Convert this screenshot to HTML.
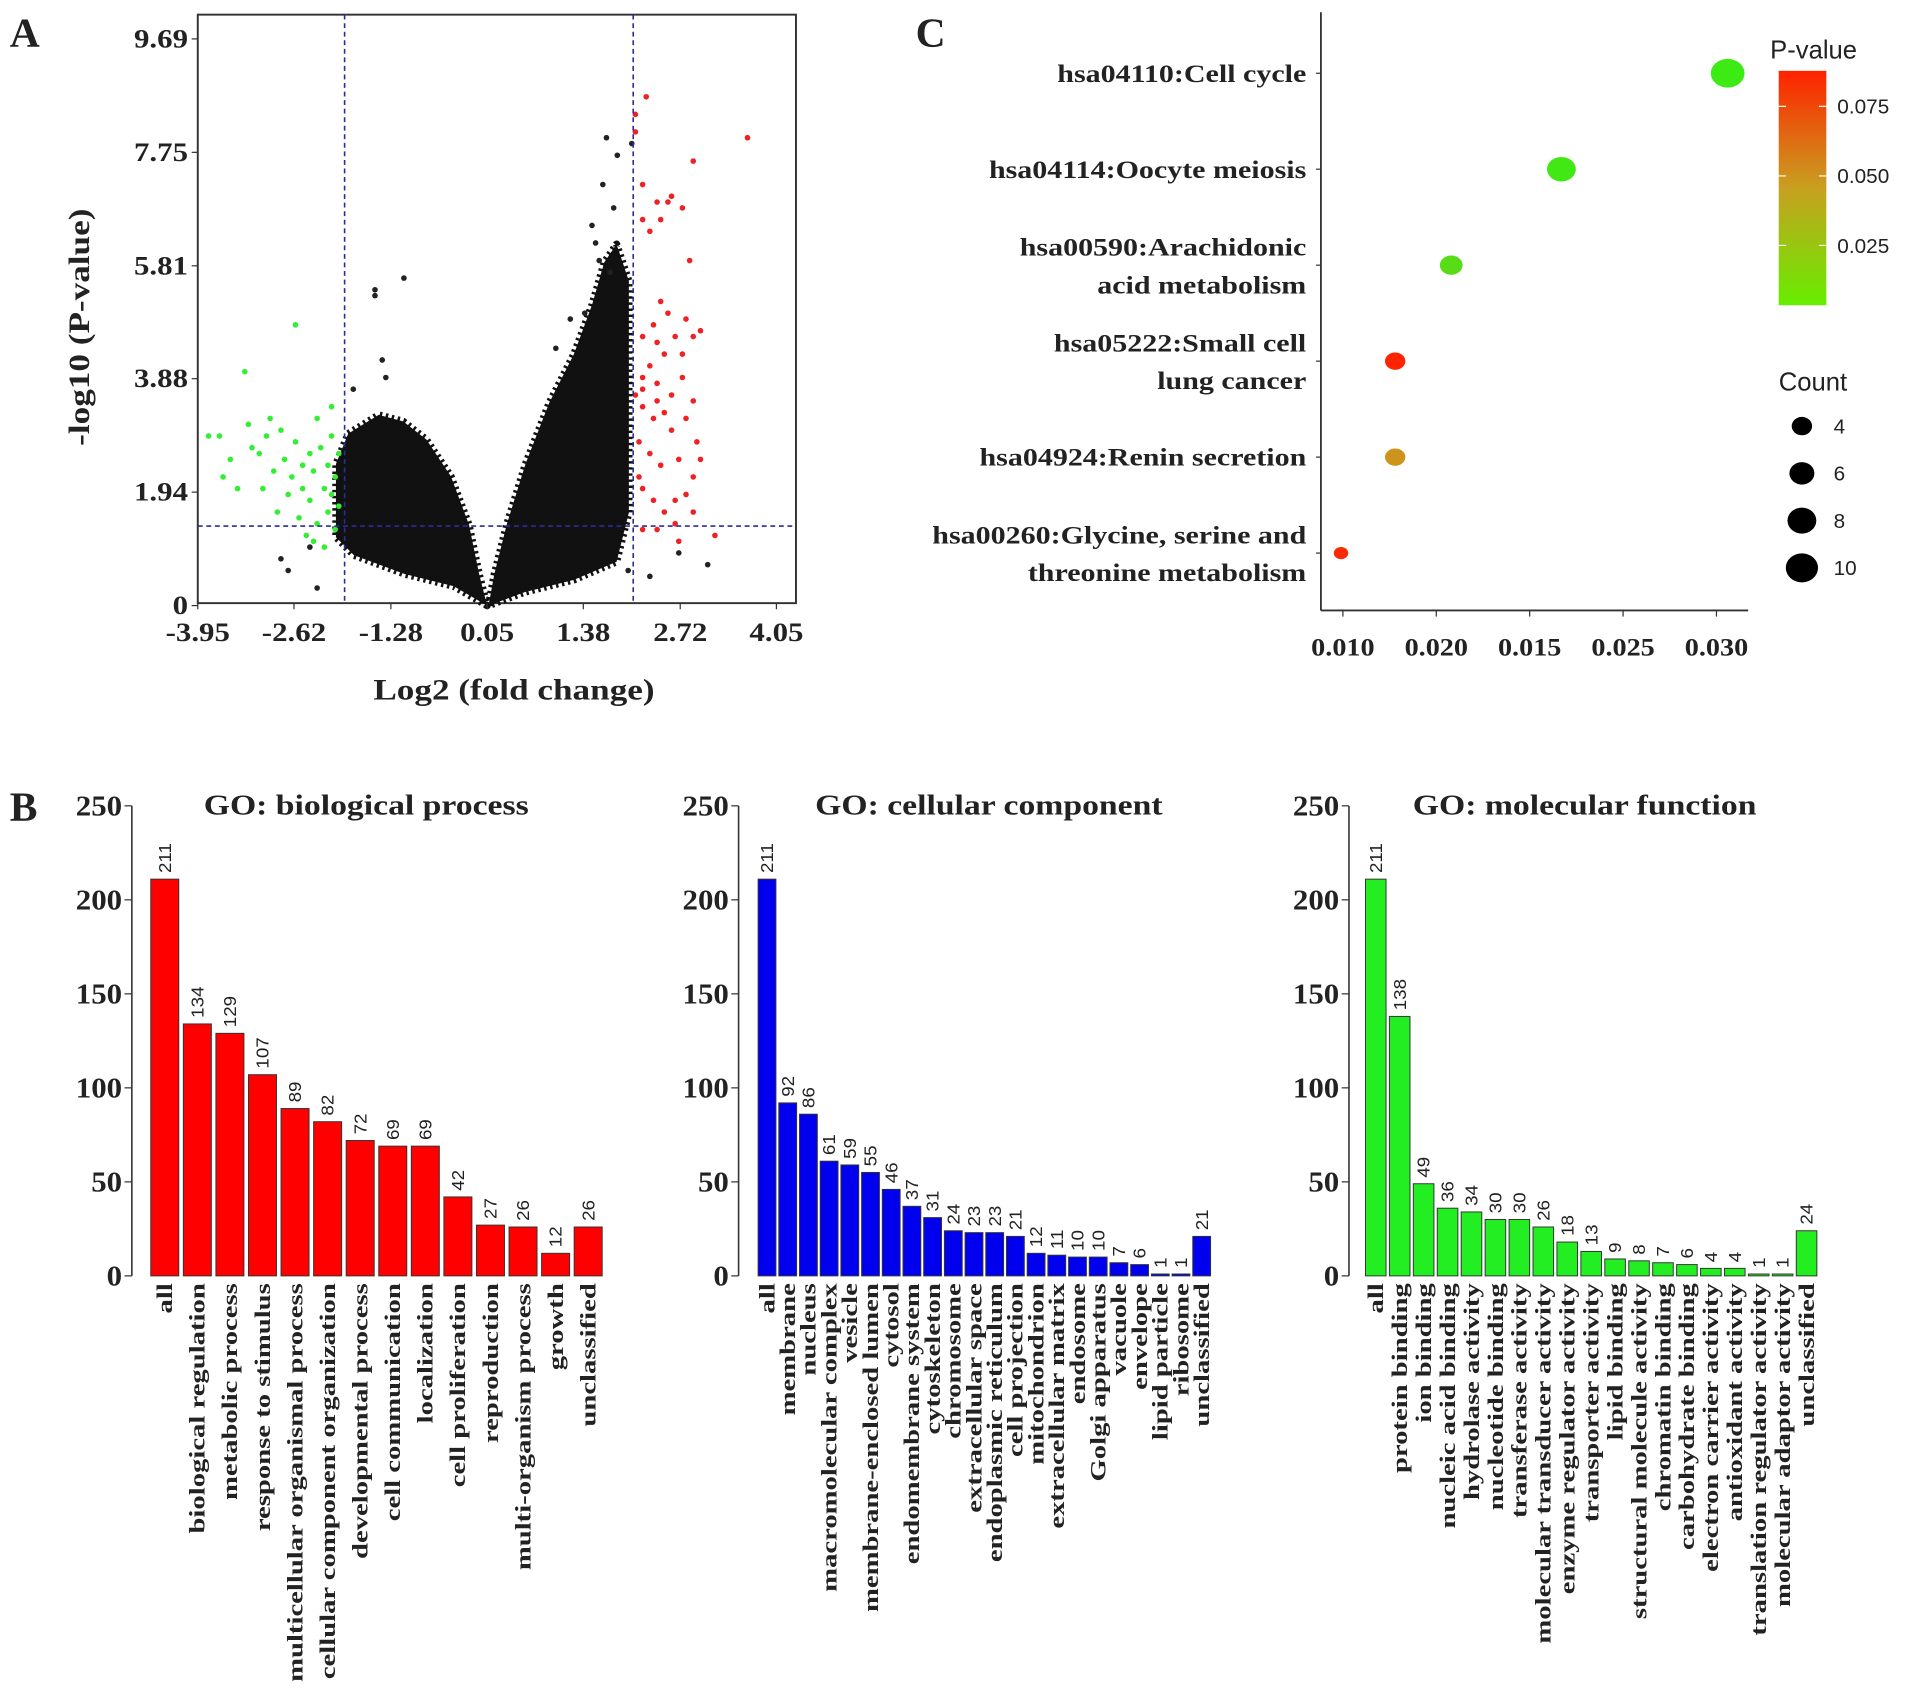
<!DOCTYPE html>
<html><head><meta charset="utf-8">
<style>
html,body{margin:0;padding:0;background:#fff;}
svg{display:block;}
.ser{font-family:"Liberation Serif",serif;font-weight:bold;fill:#222;}
.sans{font-family:"Liberation Sans",sans-serif;fill:#222;}
</style></head>
<body>
<svg id="fig" width="1913" height="1691" viewBox="0 0 1567 1385" preserveAspectRatio="none" xmlns="http://www.w3.org/2000/svg">
<rect width="1567" height="1385" fill="#fff"/>
<text class="ser" x="8" y="38" font-size="34">A</text>
<text class="ser" x="8" y="672" font-size="34">B</text>
<text class="ser" x="750" y="38" font-size="34">C</text>
<g id="volcano"></g>
<g id="bubble"></g>
<g id="bars"></g>
</svg>
<script>
// ---------- Volcano data ----------
const volXTicks = [-3.95,-2.62,-1.28,0.05,1.38,2.72,4.05];
const volYTicks = [0,1.94,3.88,5.81,7.75,9.69];
const volFcCut = [-1.92,2.07];
const volPCut = 1.36;
const volDenseLeft = [[0.05,0],[-0.41,0.33],[-1.09,0.54],[-1.79,0.86],[-2.04,1.17],[-2.04,2.42],[-1.87,2.94],[-1.45,3.26],[-1.11,3.15],[-0.79,2.84],[-0.45,2.21],[-0.20,1.38],[-0.06,0.54]];
const volDenseRight = [[0.07,0],[0.15,0.54],[0.32,1.38],[0.58,2.42],[0.91,3.47],[1.25,4.30],[1.50,5.14],[1.67,5.87],[1.84,6.18],[2.01,5.55],[2.01,4.09],[2.01,1.59],[1.84,0.75],[1.25,0.44],[0.57,0.23]];
const volGreen = [[-3.8,2.9],[-3.65,2.9],[-3.5,2.5],[-3.3,4.0],[-3.25,3.1],[-3.1,2.6],[-3.05,2.0],[-3.0,2.9],[-2.95,3.2],[-2.9,2.3],[-2.85,1.6],[-2.8,3.0],[-2.75,2.5],[-2.7,1.9],[-2.65,2.2],[-2.6,4.8],[-2.6,2.8],[-2.55,1.5],[-2.5,2.4],[-2.5,2.0],[-2.45,1.2],[-2.4,2.6],[-2.4,1.8],[-2.35,2.3],[-2.3,3.2],[-2.3,1.4],[-2.25,2.7],[-2.2,2.0],[-2.2,1.0],[-2.15,2.4],[-2.15,1.6],[-2.1,3.4],[-2.1,2.9],[-2.1,1.9],[-2.05,1.3],[-2.05,2.2],[-2.0,2.6],[-2.0,1.7],[-3.4,2.0],[-3.6,2.2],[-3.2,2.7],[-2.35,1.1]];
const volRed = [[2.1,8.4],[2.1,8.1],[2.25,8.7],[2.2,7.2],[2.3,6.4],[2.4,6.9],[2.45,6.6],[2.2,6.6],[2.6,7.0],[2.55,6.9],[2.75,6.8],[2.9,7.6],[3.65,8.0],[2.85,5.9],[2.45,5.2],[2.55,5.0],[2.2,4.6],[2.35,4.8],[2.5,4.3],[2.65,4.6],[2.8,4.9],[2.9,4.6],[3.0,4.7],[2.3,4.1],[2.2,3.9],[2.4,3.8],[2.6,3.6],[2.75,3.9],[2.9,3.5],[2.2,3.4],[2.35,3.2],[2.5,3.3],[2.6,3.0],[2.8,3.2],[2.95,2.8],[2.15,2.8],[2.3,2.6],[2.45,2.4],[2.7,2.5],[2.9,2.2],[3.0,2.5],[2.2,2.0],[2.35,1.8],[2.5,1.6],[2.65,1.8],[2.8,1.9],[2.9,1.6],[2.2,1.3],[2.4,1.3],[2.65,1.4],[3.2,1.2],[2.1,3.6],[2.2,3.7],[2.4,3.5],[2.15,2.2],[2.7,1.1],[2.4,4.5],[2.75,4.3]];
const volBlack = [[-1.1,5.6],[-1.5,5.4],[-1.5,5.3],[-1.4,4.2],[-1.35,3.9],[-1.8,3.7],[-2.4,1.0],[-2.7,0.6],[-2.3,0.3],[-2.8,0.8],[1.7,8.0],[1.85,7.7],[1.65,7.2],[1.8,6.8],[1.5,6.5],[1.55,6.2],[1.6,5.9],[1.4,5.0],[1.2,4.9],[1.0,4.4],[2.05,7.9],[1.75,5.7],[3.1,0.7],[2.7,0.9],[2.0,0.6],[2.3,0.5]];

// ---------- Bubble data ----------
const keggTerms = [["hsa04110:Cell cycle"],["hsa04114:Oocyte meiosis"],["hsa00590:Arachidonic","acid metabolism"],["hsa05222:Small cell","lung cancer"],["hsa04924:Renin secretion"],["hsa00260:Glycine, serine and","threonine metabolism"]];
const keggRatio = [0.0306,0.0217,0.0158,0.0128,0.0128,0.0099];
const keggCount = [11,8,5,4,4,2];
const keggP = [0.0035,0.005,0.012,0.087,0.05,0.085];
const keggXTickVals = [0.010,0.015,0.020,0.025,0.030];
const keggXTickLabels = ["0.010","0.020","0.015","0.025","0.030"];
const pLegendTicks = [0.025,0.050,0.075];
const countLegend = [4,6,8,10];

// ---------- GO data ----------
const bpCats = ["all","biological regulation","metabolic process","response to stimulus","multicellular organismal process","cellular component organization","developmental process","cell communication","localization","cell proliferation","reproduction","multi-organism process","growth","unclassified"];
const bpVals = [211,134,129,107,89,82,72,69,69,42,27,26,12,26];
const ccCats = ["all","membrane","nucleus","macromolecular complex","vesicle","membrane-enclosed lumen","cytosol","endomembrane system","cytoskeleton","chromosome","extracellular space","endoplasmic reticulum","cell projection","mitochondrion","extracellular matrix","endosome","Golgi apparatus","vacuole","envelope","lipid particle","ribosome","unclassified"];
const ccVals = [211,92,86,61,59,55,46,37,31,24,23,23,21,12,11,10,10,7,6,1,1,21];
const mfCats = ["all","protein binding","ion binding","nucleic acid binding","hydrolase activity","nucleotide binding","transferase activity","molecular transducer activity","enzyme regulator activity","transporter activity","lipid binding","structural molecule activity","chromatin binding","carbohydrate binding","electron carrier activity","antioxidant activity","translation regulator activity","molecular adaptor activity","unclassified"];
const mfVals = [211,138,49,36,34,30,30,26,18,13,9,8,7,6,4,4,1,1,24];
const goYTicks = [0,50,100,150,200,250];

const NS="http://www.w3.org/2000/svg";
function mk(parent,tag,attrs,text){const e=document.createElementNS(NS,tag);for(const k in attrs)e.setAttribute(k,attrs[k]);if(text!==undefined)e.textContent=text;parent.appendChild(e);return e;}
// stretched text: rot in degrees, sx horizontal stretch along text direction
function txt(parent,cls,x,y,size,anchor,str,rot,sx){
 return mk(parent,'text',{class:cls,x:0,y:0,'font-size':size,'text-anchor':anchor,transform:'translate('+x+','+y+') rotate('+(rot||0)+') scale('+(sx||1)+',1)'},str);}

// ===== Volcano =====
(function(){
const g=document.getElementById('volcano');
const X0=162,X1=652,Y0=12,Y1=494;
const vx=v=>162+(v+3.95)*59.25;
const vy=v=>496-v*47.9;
const box=mk(g,'rect',{x:X0,y:Y0,width:X1-X0,height:Y1-Y0,fill:'none',stroke:'#333','stroke-width':1.6});


[volDenseLeft,volDenseRight].forEach((poly,i)=>{
 const p=mk(g,'polygon',{points:poly.map(d=>vx(d[0])+','+vy(d[1])).join(' '),fill:'#111',stroke:'#111','stroke-width':6,'stroke-linejoin':'round','stroke-dasharray':'2 3'});
 
 
});
function pts(arr,col,name){arr.forEach(d=>{const c=mk(g,'circle',{cx:vx(d[0]),cy:vy(d[1]),r:2.3,fill:col});
 
 });}
pts(volBlack,'#222','point-nonsignificant');
pts(volGreen,'#33ee33','point-downregulated');
pts(volRed,'#ee2222','point-upregulated');
volFcCut.forEach(c=>{const l=mk(g,'line',{x1:vx(c),x2:vx(c),y1:Y0,y2:Y1,stroke:'#2b2b9a','stroke-width':1.3,'stroke-dasharray':'4 3'});
 
 });
const hl=mk(g,'line',{x1:X0,x2:X1,y1:vy(volPCut),y2:vy(volPCut),stroke:'#2b2b9a','stroke-width':1.3,'stroke-dasharray':'4 3'});


volXTicks.forEach(t=>{mk(g,'line',{x1:vx(t),x2:vx(t),y1:Y1,y2:Y1+5,stroke:'#333'});
 const tx=txt(g,'ser',vx(t),Y1+31,22,'middle',t.toFixed(2),0,1.15);
 
 });
volYTicks.forEach(t=>{mk(g,'line',{x1:X0-5,x2:X0,y1:vy(t),y2:vy(t),stroke:'#333'});
 const tx=txt(g,'ser',X0-8,vy(t)+7,22,'end',t===0?'0':t.toFixed(2),0,1.15);
 
 });
const xl=txt(g,'ser',421,573,24,'middle','Log2 (fold change)',0,1.2);


const yl=txt(g,'ser',73,268,24,'middle','-log10 (P-value)',-90,1.2);


})();

// ===== Bubble =====
(function(){
const g=document.getElementById('bubble');
const AX=1082,AY=500;
const bx=v=>1100+(v-0.010)/0.005*76.5;
const catY=[60,137,216,295,374,453];
const by=i=>catY[0]+i*(catY[5]-catY[0])/5;
const br=c=>3.3*Math.sqrt(c*1.6);
function pcol(p){const t=Math.max(0,Math.min(1,(p-0.0035)/(0.0878-0.0035)));
 const a=[60,235,20],m=[200,160,32],b=[255,34,0];let c;
 if(t<0.5){const u=t/0.5;c=a.map((v,i)=>v+(m[i]-v)*u);}else{const u=(t-0.5)/0.5;c=m.map((v,i)=>v+(b[i]-v)*u);}
 return 'rgb('+c.map(Math.round).join(',')+')';}
const ya=mk(g,'line',{x1:AX,x2:AX,y1:10,y2:AY,stroke:'#333','stroke-width':1.5});


const xa=mk(g,'line',{x1:AX,x2:1432,y1:AY,y2:AY,stroke:'#333','stroke-width':1.5});


keggXTickVals.forEach((v,i)=>{mk(g,'line',{x1:bx(v),x2:bx(v),y1:AY,y2:AY+5,stroke:'#333'});
 const t=txt(g,'ser',bx(v),AY+37,21,'middle',keggXTickLabels[i],0,1.1);
 
 });
keggTerms.forEach((lines,i)=>{const y=by(i);
 mk(g,'line',{x1:AX-4,x2:AX,y1:y,y2:y,stroke:'#333'});
 lines.forEach((s,j)=>{const off=lines.length===1?7:(j===0?-8:23);
  const t=txt(g,'ser',1070,y+off,21,'end',s,0,1.17);
  
  });
 const r=br(keggCount[i]);
 const e=mk(g,'ellipse',{cx:bx(keggRatio[i]),cy:y,rx:r,ry:r*0.85,fill:pcol(keggP[i])});
 
 });
const defs=mk(g,'defs',{});const lg=mk(defs,'linearGradient',{id:'pg',x1:0,y1:1,x2:0,y2:0});
mk(lg,'stop',{offset:'0','stop-color':'#66ee00'});mk(lg,'stop',{offset:'0.5','stop-color':'#c8a020'});mk(lg,'stop',{offset:'1','stop-color':'#ff2200'});
const CB0=58,CB1=250;const pyy=p=>CB1-(p-0.0035)/(0.0878-0.0035)*(CB1-CB0);
const cb=mk(g,'rect',{x:1457,y:CB0,width:39,height:CB1-CB0,fill:'url(#pg)'});


const pt=mk(g,'text',{class:'sans',x:1450,y:48,'font-size':21},'P-value');


pLegendTicks.forEach(p=>{mk(g,'line',{x1:1457,x2:1496,y1:pyy(p),y2:pyy(p),stroke:'#fff','stroke-width':1,'stroke-dasharray':'6 27'});
 const t=mk(g,'text',{class:'sans',x:1505,y:pyy(p)+6,'font-size':17},p.toFixed(3));
 
 });
const ct=mk(g,'text',{class:'sans',x:1457,y:320,'font-size':21},'Count');


countLegend.forEach((c,i)=>{const y=349+i*38.7;const r=br(c);
 const e=mk(g,'ellipse',{cx:1476,cy:y,rx:r,ry:r*0.9,fill:'#000'});
 
 
 mk(g,'text',{class:'sans',x:1502,y:y+6,'font-size':17},String(c));});
})();

// ===== GO bars =====
(function(){
const g=document.getElementById('bars');
const YB=1045,PX=385/250;
const yv=v=>YB-v*PX;
function chart(title,cats,vals,axisX,first,last,titleX,color,name){
 const cg=mk(g,'g',{});
 
 
 const step=(last-first)/cats.length;const bw=step*0.86;
 mk(cg,'line',{x1:axisX,x2:axisX,y1:yv(250),y2:yv(0),stroke:'#333','stroke-width':1.3});
 goYTicks.forEach(t=>{mk(cg,'line',{x1:axisX-6,x2:axisX,y1:yv(t),y2:yv(t),stroke:'#333'});
  const tx=txt(cg,'ser',axisX-8,yv(t)+8,23,'end',String(t),0,1.1);
  
  });
 const tt=txt(cg,'ser',titleX,667,23,'middle',title,0,1.2);
 
 
 cats.forEach((c,i)=>{const x=first+i*step;const cx=x+bw/2;
  const r=mk(cg,'rect',{x:x,y:yv(vals[i]),width:bw,height:vals[i]*PX,fill:color,stroke:'#333','stroke-width':0.8});
  
  
  const vl=txt(cg,'sans',cx+5,yv(vals[i])-5,14,'start',String(vals[i]),-90,1.1);
  
  
  const cl=txt(cg,'ser',cx+6,YB+6,18.5,'end',c,-90,1.27);
  
  });
}
chart('GO: biological process',bpCats,bpVals,108,123.5,497,300,'#ff0000','bp-bar-chart');
chart('GO: cellular component',ccCats,ccVals,605,621,994,810,'#0000ee','cc-bar-chart');
chart('GO: molecular function',mfCats,mfVals,1105,1118.5,1491,1298,'#22ee22','mf-bar-chart');
})();
</script>
</body></html>
